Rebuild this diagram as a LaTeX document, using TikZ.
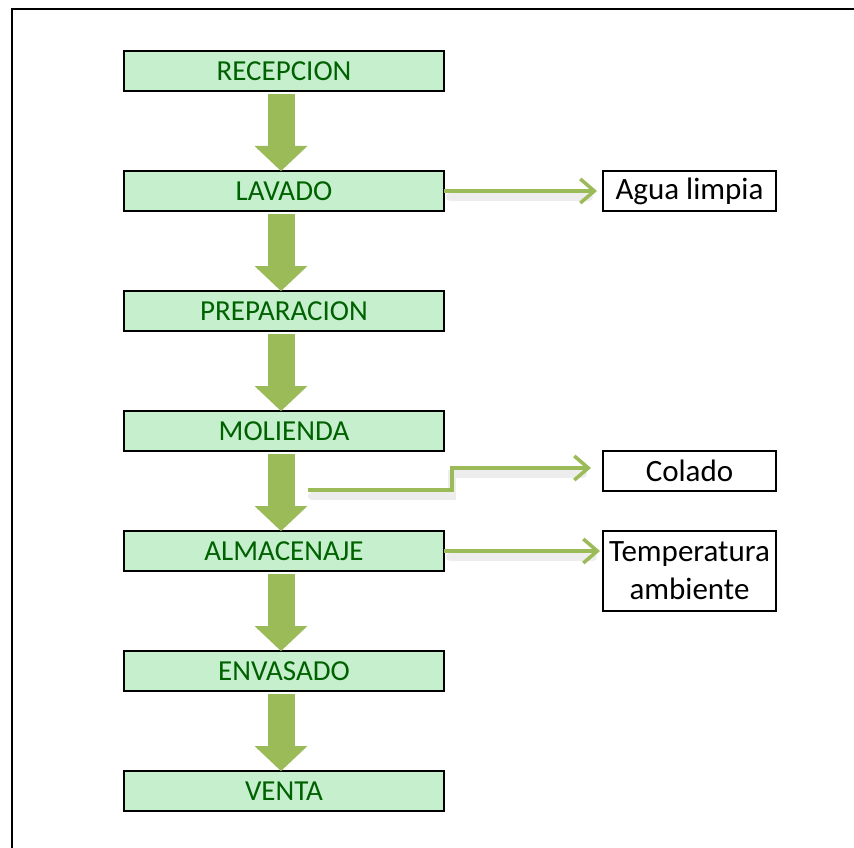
\documentclass[tikz,border=0pt]{standalone}
\usepackage{fontspec}
\setmainfont{Carlito}
\usetikzlibrary{arrows.meta,positioning,calc}

\definecolor{boxgreen}{HTML}{C6EFCE}
\definecolor{textgreen}{HTML}{006100}
\definecolor{olivegreen}{HTML}{9BBB59}

\begin{document}
\begin{tikzpicture}[x=1pt, y=-1pt, node distance=80pt, >=Stealth,
    stepbox/.style={rectangle, draw=black, line width=2.5pt, fill=boxgreen, text=textgreen, minimum width=320pt, minimum height=40pt, inner sep=0pt, outer sep=0pt, font=\fontsize{29}{34}\selectfont},
    sidebox/.style={rectangle, draw=black, line width=2pt, fill=white, minimum width=173pt, minimum height=40pt, inner sep=0pt, outer sep=0pt, align=center, font=\fontsize{31}{38}\selectfont},
    flow/.style={draw=olivegreen, line width=27pt, -{Triangle[length=25pt, width=53pt, line width=0pt]}},
    sidearrow/.style={draw=olivegreen, line width=3.5pt, -{Straight Barb[length=14pt, width=24pt]}},
    glow/.style={draw=black!7, line width=8pt, line cap=round, transform canvas={yshift=-6pt}}]
        \useasboundingbox (0,0) rectangle (854,848);

        % Frame
        \draw[line width=2.5pt] (854,9) -| (12,848);

        % Process steps
        \node[stepbox] (rec) at (284,71) {RECEPCION};
        \node[stepbox, below=of rec] (lav) {LAVADO};
        \node[stepbox, below=of lav] (prep) {PREPARACION};
        \node[stepbox, below=of prep] (mol) {MOLIENDA};
        \node[stepbox, below=of mol] (alm) {ALMACENAJE};
        \node[stepbox, below=of alm] (env) {ENVASADO};
        \node[stepbox, below=of env] (ven) {VENTA};

        % Side notes
        \node[sidebox, right=159pt of lav] (agua) {Agua limpia};
        \node[sidebox] (col) at (689.5,471) {Colado};
        \node[sidebox, minimum height=80pt, anchor=north west] (temp) at ([xshift=159pt]alm.north east) {Temperatura\\ambiente};
        \coordinate (colsrc) at (308,490);

        % Shadows of the side arrows
        \draw[glow] ([xshift=6pt]lav.east) -- ([xshift=-14pt]agua.west);
        \draw[glow] ([xshift=4pt]colsrc) -- ++(140,0) |- ([xshift=-20pt, yshift=3pt]col.west);
        \draw[glow] ([xshift=6pt]alm.east) -- ([xshift=-10pt]alm.east -| temp.west);

        % Main flow
        \foreach \a/\b in {rec/lav, lav/prep, prep/mol, mol/alm, alm/env, env/ven}
            \draw[flow] ([xshift=-3pt, yshift=-3pt]\a.south) -- ([xshift=-3pt]\b.north);

        % Side arrows
        \draw[sidearrow, shorten >=6pt] (lav.east) -- (agua.west);
        \draw[sidearrow, shorten >=12pt] (colsrc) -- ++(144,0) |- ([yshift=3pt]col.west);
        \draw[sidearrow, shorten >=3pt] (alm.east) -- (alm.east -| temp.west);
    \end{tikzpicture}
\end{document}
